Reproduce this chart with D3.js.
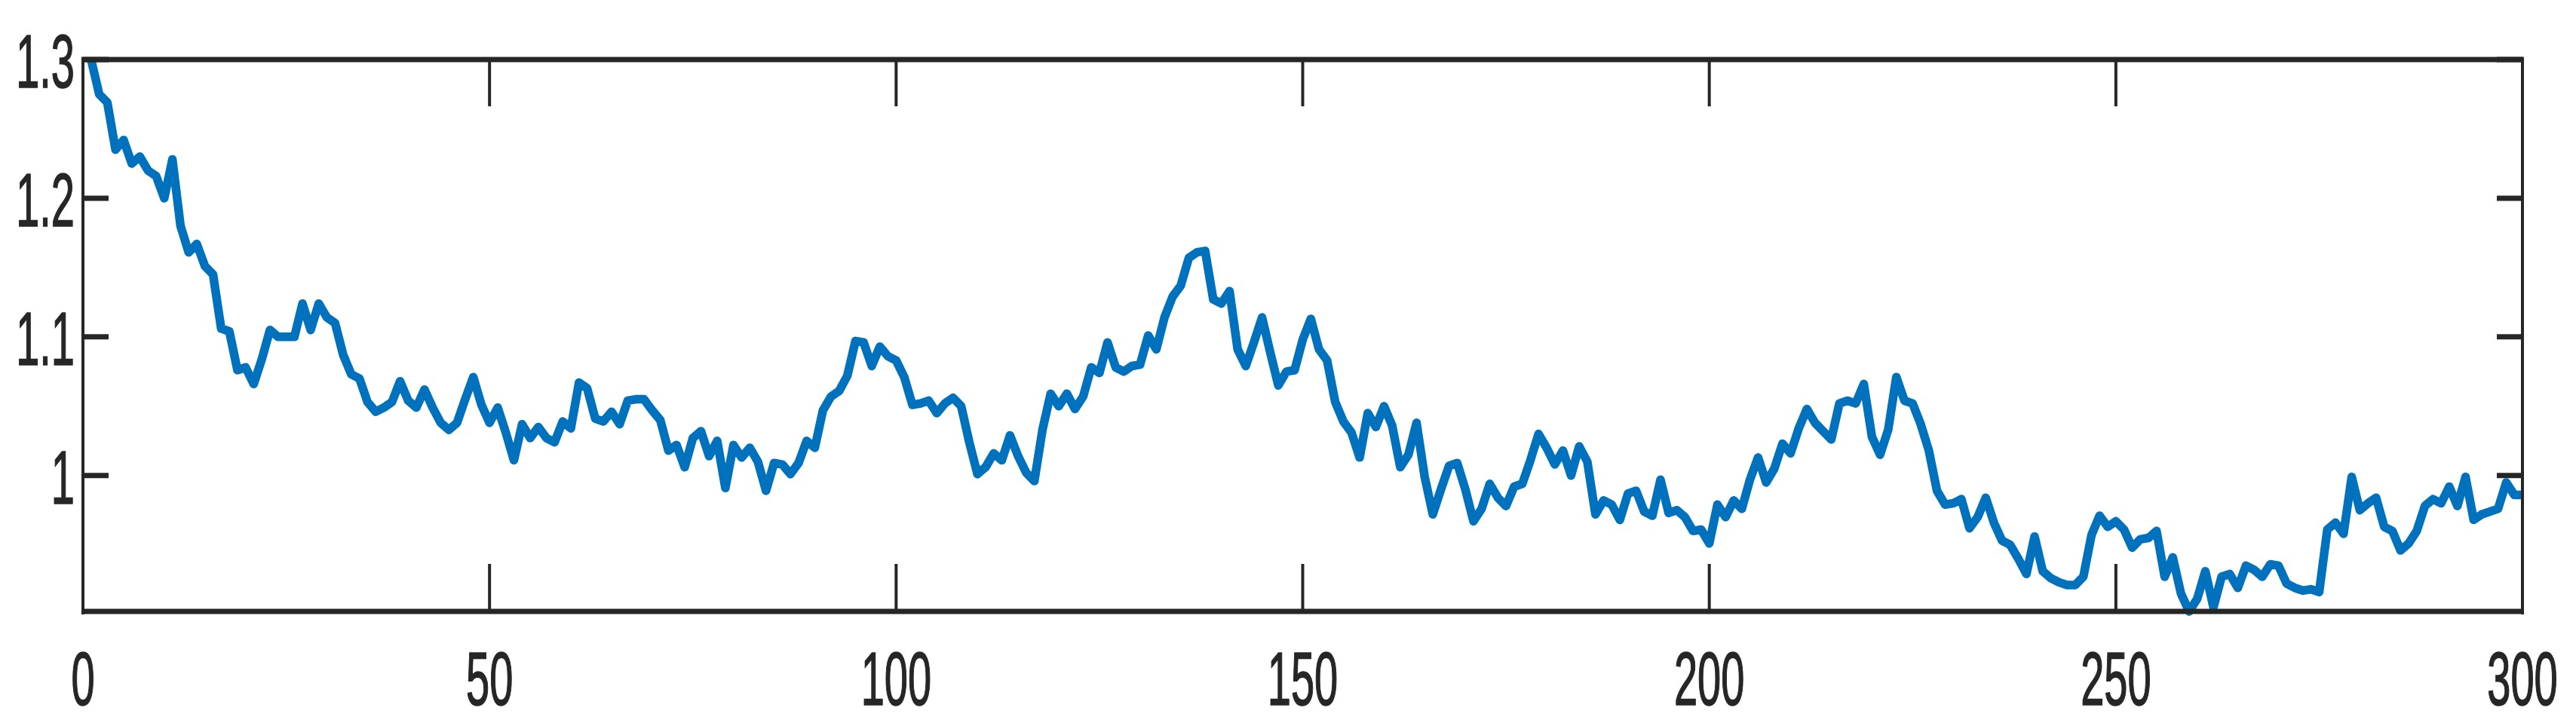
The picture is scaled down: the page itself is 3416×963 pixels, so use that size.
<!DOCTYPE html>
<meta charset='utf-8'>
<style>
  body {
    margin:0;
    background:#fff;
  }
  .tickLabel {
    font-family:'Liberation Sans', Arial, sans-serif;
    font-size:100px;
    fill:#262626;
    stroke:#262626;
    stroke-width:1.6px;
  }
</style>
<body>
  <script src='https://d3js.org/d3.v7.min.js' charset='utf-8'></script>
  <script>

    // values, one per step 1..300
    var values = [
      1.300, 1.275, 1.269, 1.235, 1.242, 1.225, 1.230, 1.220, 1.216, 1.200,
      1.228, 1.180, 1.161, 1.167, 1.151, 1.145, 1.106, 1.104, 1.076, 1.078,
      1.066, 1.084, 1.105, 1.100, 1.100, 1.100, 1.124, 1.105, 1.124, 1.114,
      1.110, 1.087, 1.073, 1.070, 1.053, 1.046, 1.049, 1.053, 1.068, 1.054,
      1.049, 1.062, 1.049, 1.038, 1.033, 1.038, 1.055, 1.071, 1.051, 1.038,
      1.049, 1.031, 1.011, 1.037, 1.027, 1.035, 1.027, 1.024, 1.039, 1.034,
      1.067, 1.063, 1.041, 1.039, 1.046, 1.037, 1.054, 1.055, 1.055, 1.047,
      1.040, 1.018, 1.022, 1.006, 1.027, 1.032, 1.014, 1.025, 0.991, 1.022,
      1.013, 1.020, 1.010, 0.989, 1.009, 1.008, 1.001, 1.009, 1.025, 1.020,
      1.047, 1.057, 1.061, 1.072, 1.097, 1.096, 1.079, 1.093, 1.086, 1.083,
      1.071, 1.051, 1.052, 1.054, 1.045, 1.052, 1.056, 1.050, 1.024, 1.001,
      1.006, 1.016, 1.011, 1.029, 1.014, 1.002, 0.996, 1.033, 1.059, 1.050,
      1.059, 1.048, 1.057, 1.078, 1.074, 1.096, 1.078, 1.075, 1.079, 1.080,
      1.101, 1.091, 1.114, 1.129, 1.137, 1.157, 1.161, 1.162, 1.127, 1.124,
      1.133, 1.091, 1.079, 1.096, 1.114, 1.089, 1.065, 1.075, 1.076, 1.098,
      1.113, 1.091, 1.083, 1.053, 1.039, 1.031, 1.013, 1.045, 1.035, 1.050,
      1.036, 1.006, 1.015, 1.038, 0.999, 0.972, 0.990, 1.007, 1.009, 0.990,
      0.967, 0.976, 0.994, 0.984, 0.978, 0.992, 0.994, 1.011, 1.030, 1.020,
      1.008, 1.018, 1.000, 1.021, 1.010, 0.972, 0.982, 0.979, 0.968, 0.987,
      0.989, 0.974, 0.971, 0.997, 0.973, 0.975, 0.970, 0.960, 0.961, 0.951,
      0.979, 0.970, 0.982, 0.976, 0.997, 1.013, 0.995, 1.005, 1.023, 1.016,
      1.034, 1.048, 1.038, 1.032, 1.026, 1.052, 1.054, 1.052, 1.066, 1.028,
      1.015, 1.033, 1.071, 1.054, 1.052, 1.037, 1.018, 0.989, 0.979, 0.980,
      0.983, 0.962, 0.970, 0.984, 0.966, 0.953, 0.950, 0.940, 0.929, 0.956,
      0.931, 0.926, 0.923, 0.921, 0.921, 0.927, 0.957, 0.971, 0.963, 0.967,
      0.961, 0.948, 0.954, 0.955, 0.960, 0.927, 0.941, 0.915, 0.902, 0.911,
      0.931, 0.905, 0.927, 0.929, 0.919, 0.935, 0.932, 0.927, 0.936, 0.935,
      0.922, 0.919, 0.917, 0.918, 0.916, 0.961, 0.966, 0.958, 0.999, 0.975,
      0.980, 0.984, 0.963, 0.960, 0.946, 0.951, 0.960, 0.978, 0.983, 0.980,
      0.992, 0.978, 0.999, 0.968, 0.972, 0.974, 0.976, 0.995, 0.986, 0.986
    ];
    var steps = d3.range(1, values.length + 1);
    var xTicks = [0, 50, 100, 150, 200, 250, 300];
    var yTicks = [1, 1.1, 1.2, 1.3];
    var yTickLabels = ['1', '1.1', '1.2', '1.3'];

    var width = 3416;
    var height = 963;
    var margin = {top:79, right:71, bottom:152, left:110};
    var ink = '#262626';

    var svg = d3.select('body').append('svg')
      .attr('width',width)
      .attr('height',height);

    var x = d3.scaleLinear()
      .domain([0, 300])
      .range([margin.left, width - margin.right]);
    var y = d3.scaleLinear()
      .domain(d3.extent(values))
      .range([height - margin.bottom, margin.top]);

    var line = d3.line()
      .x((d,i) => x(steps[i]))
      .y(d => y(d));

    svg.append('path')
      .datum(values)
      .attr('d', line)
      .attr('fill','none')
      .attr('stroke','#0072BD')
      .attr('stroke-width',11.5)
      .attr('stroke-linejoin','round');

    var x0 = x.range()[0], x1 = x.range()[1];
    var y0 = y.range()[0], y1 = y.range()[1];

    // box: vertical edges come out thin, horizontal ones thick in the picture
    svg.append('line').attr('x1',x0).attr('x2',x0).attr('y1',y1 - 3).attr('y2',y0 + 4)
      .attr('stroke',ink).attr('stroke-width',4);
    svg.append('line').attr('x1',x1).attr('x2',x1).attr('y1',y1 - 3).attr('y2',y0 + 4)
      .attr('stroke',ink).attr('stroke-width',4);
    svg.append('line').attr('x1',x0 - 2).attr('x2',x1 + 2).attr('y1',y0).attr('y2',y0)
      .attr('stroke',ink).attr('stroke-width',7);
    svg.append('line').attr('x1',x0 - 2).attr('x2',x1 + 2).attr('y1',y1).attr('y2',y1)
      .attr('stroke',ink).attr('stroke-width',7);

    // x ticks, bottom and top, pointing in
    xTicks.forEach(t => {
      svg.append('line').attr('x1',x(t)).attr('x2',x(t)).attr('y1',y0).attr('y2',y0 - 63)
        .attr('stroke',ink).attr('stroke-width',4);
      svg.append('line').attr('x1',x(t)).attr('x2',x(t)).attr('y1',y1).attr('y2',y1 + 62)
        .attr('stroke',ink).attr('stroke-width',4);
      svg.append('text')
        .attr('class','tickLabel')
        .attr('text-anchor','middle')
        .attr('transform','translate(' + x(t) + ',' + (y0 + 124) + ') scale(0.56,1)')
        .text(t);
    });

    // y ticks, left and right
    yTicks.forEach((t,i) => {
      svg.append('line').attr('x1',x0).attr('x2',x0 + 34).attr('y1',y(t)).attr('y2',y(t))
        .attr('stroke',ink).attr('stroke-width',7);
      svg.append('line').attr('x1',x1).attr('x2',x1 - 34).attr('y1',y(t)).attr('y2',y(t))
        .attr('stroke',ink).attr('stroke-width',7);
      svg.append('text')
        .attr('class','tickLabel')
        .attr('text-anchor','end')
        .attr('transform','translate(' + (x0 - 11) + ',' + (y(t) + 37) + ') scale(0.56,1)')
        .text(yTickLabels[i]);
    });
  </script>
</body>
